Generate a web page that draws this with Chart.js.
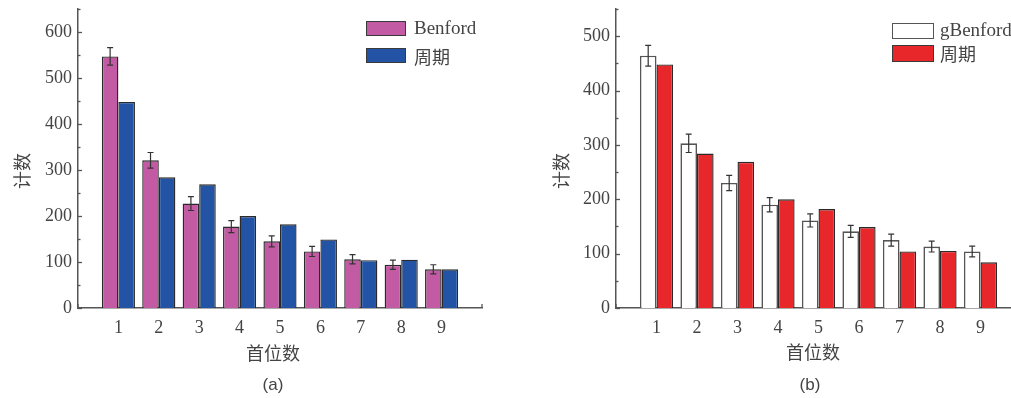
<!DOCTYPE html>
<html><head><meta charset="utf-8">
<script src="https://cdn.jsdelivr.net/npm/chart.js@4.4.1/dist/chart.umd.min.js"></script>
<style>
html,body{margin:0;padding:0;background:#fff;overflow:hidden;width:1011px;height:398px;}
.wrap{position:absolute;top:0;}
canvas{position:absolute;top:0;left:0;}
.t{position:absolute;color:#444;white-space:nowrap;}
.cjk{font-family:"Noto Sans CJK SC",sans-serif;}
.serif{font-family:"Liberation Serif",serif;}
.cap{font-family:"Liberation Sans",sans-serif;font-size:17px;}
.box{position:absolute;border:1.5px solid #3a3a3a;box-sizing:border-box;}
</style></head>
<body>
<div class="wrap" style="left:0;width:500px;height:398px;"><canvas id="ca" width="500" height="398"></canvas></div>
<div class="wrap" style="left:530px;width:500px;height:398px;"><canvas id="cb" width="500" height="398"></canvas></div>

<div class="t cjk" style="left:3px;top:171px;font-size:18px;transform:translate(0,-50%) rotate(-90deg);transform-origin:center;">计数</div>
<div class="t cjk" style="left:542px;top:171px;font-size:18px;transform:translate(0,-50%) rotate(-90deg);transform-origin:center;">计数</div>
<div class="t cjk" style="left:273px;top:352px;font-size:18px;transform:translate(-50%,-50%);">首位数</div>
<div class="t cjk" style="left:813px;top:351px;font-size:18px;transform:translate(-50%,-50%);">首位数</div>
<div class="t cap" style="left:273px;top:385px;transform:translate(-50%,-50%);">(a)</div>
<div class="t cap" style="left:810px;top:385px;transform:translate(-50%,-50%);">(b)</div>

<div class="box" style="left:366px;top:21px;width:40px;height:15px;background:#c25ba3;"></div>
<div class="t serif" style="left:414px;top:28px;font-size:19px;transform:translate(0,-50%);">Benford</div>
<div class="box" style="left:366px;top:48px;width:40px;height:15px;background:#2253a5;"></div>
<div class="t cjk" style="left:414px;top:56px;font-size:18px;transform:translate(0,-50%);">周期</div>

<div class="box" style="left:892px;top:23px;width:42px;height:16px;background:#fff;border-color:#555;"></div>
<div class="t serif" style="left:940px;top:30px;font-size:19px;transform:translate(0,-50%);">gBenford</div>
<div class="box" style="left:892px;top:45px;width:42px;height:17px;background:#e8272b;"></div>
<div class="t cjk" style="left:940px;top:53px;font-size:18px;transform:translate(0,-50%);">周期</div>

<script>
const categories = [1, 2, 3, 4, 5, 6, 7, 8, 9];
const benford = [547, 321, 227, 177, 145, 123, 106, 94, 84];
const benfordErr = [19, 17, 15, 13, 12, 11, 10, 10, 10];
const periodic = [448, 284, 269, 200, 182, 149, 104, 105, 84];
const gBenford = [464, 303, 230, 190, 161, 141, 125, 113, 104];
const gBenfordErr = [19, 17, 14, 13, 12, 11, 11, 10, 10];
const yTicksA = [0, 100, 200, 300, 400, 500, 600];
const yTicksB = [0, 100, 200, 300, 400, 500];

function pts(vals){ return categories.map((c,i)=>({x:c,y:vals[i]})); }

const errorBars = {
  id:'errorBars',
  afterDatasetsDraw(chart, args, opts){
    const ctx = chart.ctx, ys = chart.scales.y;
    const meta = chart.getDatasetMeta(0);
    const vals = opts.values, errs = opts.errors;
    ctx.save();
    ctx.strokeStyle = '#333'; ctx.lineWidth = 1.2;
    meta.data.forEach((bar,i)=>{
      const x = bar.x;
      const y1 = ys.getPixelForValue(vals[i]+errs[i]);
      const y2 = ys.getPixelForValue(vals[i]-errs[i]);
      ctx.beginPath();
      ctx.moveTo(x,y1); ctx.lineTo(x,y2);
      ctx.moveTo(x-3,y1); ctx.lineTo(x+3,y1);
      ctx.moveTo(x-3,y2); ctx.lineTo(x+3,y2);
      ctx.stroke();
    });
    ctx.restore();
  }
};

const axisTicks = {
  id:'axisTicks',
  afterDraw(chart){
    const ctx = chart.ctx, ys = chart.scales.y, xs = chart.scales.x, a = chart.chartArea;
    ctx.save();
    ctx.strokeStyle = '#555'; ctx.lineWidth = 1.3;
    for(let v=0; v<=ys.max; v+=50){
      const y = Math.round(ys.getPixelForValue(v))+0.5;
      const len = (v%100===0)?4:2.5;
      ctx.beginPath(); ctx.moveTo(a.left, y); ctx.lineTo(a.left+len, y); ctx.stroke();
    }
    [xs.min, xs.max].forEach(v=>{
      const x = xs.getPixelForValue(v);
      ctx.beginPath(); ctx.moveTo(x, a.bottom); ctx.lineTo(x, a.bottom-4); ctx.stroke();
    });
    ctx.restore();
  }
};

function makeChart(id, ds, yMax, yTicks, yWidth, padTop, padRight, errVals, errs){
  return new Chart(document.getElementById(id), {
    type:'bar',
    data:{ datasets: ds },
    options:{
      responsive:false, animation:false, devicePixelRatio:1,
      layout:{ padding:{ left:0, top:padTop, right:padRight, bottom:0 } },
      plugins:{ legend:{display:false}, tooltip:{enabled:false}, errorBars:{values:errVals, errors:errs} },
      datasets:{ bar:{ categoryPercentage:0.82, barPercentage:1.0, borderWidth:1.4, borderColor:'#2a2a2a', grouped:true } },
      scales:{
        x:{ type:'linear', min:0, max:10, offset:false,
            grid:{display:false, drawTicks:false},
            border:{display:true, color:'#555', width:1.5},
            afterBuildTicks(s){ s.ticks = categories.map(v=>({value:v})); },
            ticks:{ color:'#444', padding:9, font:{family:'Liberation Serif', size:18}, maxRotation:0, autoSkip:false,
                    callback:(v)=>String(v) },
            afterFit(s){ s.height = 90; s.paddingLeft = 0; s.paddingRight = 0; } },
        y:{ min:0, max:yMax,
            grid:{display:false, drawTicks:false},
            border:{display:true, color:'#555', width:1.5},
            afterBuildTicks(s){ s.ticks = yTicks.map(v=>({value:v})); },
            ticks:{ color:'#444', padding:6, font:{family:'Liberation Serif', size:18} },
            afterFit(s){ s.width = yWidth; s.paddingTop = 0; s.paddingBottom = 0; } }
      }
    },
    plugins:[errorBars, axisTicks]
  });
}

makeChart('ca', [
  { label:'Benford', data:pts(benford), backgroundColor:'#c25ba3' },
  { label:'周期', data:pts(periodic), backgroundColor:'#2253a5' }
], 650, yTicksA, 78, 9, 18, benford, benfordErr);

makeChart('cb', [
  { label:'gBenford', data:pts(gBenford), backgroundColor:'#ffffff', borderColor:'#555', borderWidth:1.6 },
  { label:'周期', data:pts(periodic), backgroundColor:'#e8272b' }
], 550, yTicksB, 86, 9, 9, gBenford, gBenfordErr);
</script>
</body></html>
